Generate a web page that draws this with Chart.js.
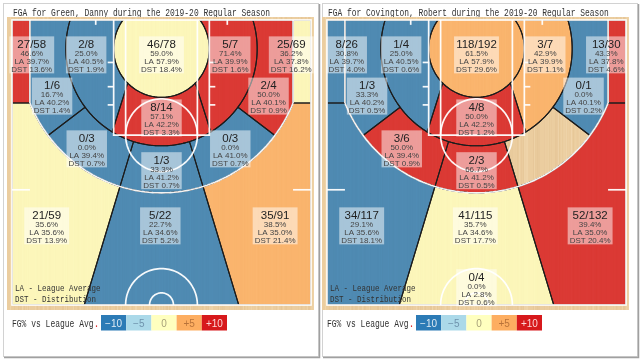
<!DOCTYPE html>
<html><head><meta charset="utf-8">
<script src="https://cdn.jsdelivr.net/npm/chart.js@4.4.1/dist/chart.umd.min.js"></script>
<style>
html,body{margin:0;padding:0;background:#fff;width:640px;height:359px;overflow:hidden}
.wrap{position:absolute;top:0;width:325px;height:359px}
</style></head><body>
<div class="wrap" style="left:0"><canvas id="c1" width="325" height="359"></canvas></div>
<div class="wrap" style="left:315px"><canvas id="c2" width="325" height="359"></canvas></div>
<script>
// ---------------- DATA ----------------
const zoneNames = ['Corner 3 L','Mid 8-16 L','Under 8 ft','Mid 8-16 R','Corner 3 R','Mid 16-24 L','Mid 8-16 C','Mid 16-24 R','Mid 16-24 LC','Mid 16-24 RC','Mid 16-24 C','Above Break 3 L','Above Break 3 C','Above Break 3 R','Backcourt'];
const greenTitle = 'FGA for Green, Danny during the 2019-20 Regular Season';
const greenMade = [27,2,46,5,25,1,8,2,0,0,1,21,5,35,0];
const greenAtt  = [58,8,78,7,69,6,14,4,3,3,3,59,22,91,0];
const greenLA   = [39.7,40.5,57.9,39.9,37.8,40.2,42.2,40.1,39.4,41.0,41.2,35.6,34.6,35.0,2.8];
const greenDST  = [13.6,1.9,18.4,1.6,16.2,1.4,3.3,0.9,0.7,0.7,0.7,13.9,5.2,21.4,0.0];
const covTitle = 'FGA for Covington, Robert during the 2019-20 Regular Season';
const covMade = [8,1,118,3,13,1,4,0,3,0,2,34,41,52,0];
const covAtt  = [26,4,192,7,30,3,8,1,6,0,3,117,115,132,4];
const covLA   = [39.7,40.5,57.9,39.9,37.8,40.2,42.2,40.1,39.4,41.0,41.2,35.6,34.6,35.0,2.8];
const covDST  = [4.0,0.6,29.6,1.1,4.6,0.5,1.2,0.2,0.9,0.0,0.5,18.1,17.7,20.4,0.6];
const legendTicks = ['-10','-5','0','+5','+10'];
const legendTitle = 'FG% vs League Avg';
const noteLines = ['LA - League Average','DST - Distribution'];

// ---------------- STYLE / GEOMETRY (court units, 0.1 ft, basket at 0,0) ----------------
const PAL = ['#2c7bb6','#abd9e9','#ffffbf','#fdae61','#d7191c'];
const LEG_TXT = ['rgba(255,255,255,0.85)','#6f93ad','#a8a27a','#b9733a','rgba(255,225,225,0.95)'];
const BL=-47.5, HC=422.5, SW=250, CXL=220, R8=80, R16=160, R3=237.5;
const A_CORNER = Math.asin(CXL/R3)*180/Math.PI, Y_CORNER = Math.sqrt(R3*R3-CXL*CXL);
const A_B8 = Math.acos(BL/R8)*180/Math.PI, A_B16 = Math.acos(BL/R16)*180/Math.PI;
const A_IN=45, A_OUT=31, A_MID=53, A_CEN=17;
const anchors = [[-217,10],[-126,10],[0,10],[115,10],[217,10],[-183,78],[0,114],[179,78],[-125,165],[115,165],[0,201],[-192,292],[-2,292],[190,292],[0,394]];

const D = Math.PI/180;
const P = (r,a)=>[r*Math.sin(a*D), r*Math.cos(a*D)];
function arc(r,a0,a1,n=48){const p=[];for(let i=0;i<=n;i++)p.push(P(r,a0+(a1-a0)*i/n));return p;}
const mir = pts=>pts.map(([x,y])=>[-x,y]);
const tanC = Math.tan(A_CEN*D);
const Z = {};
Z.c3l = [[-SW,BL],[-CXL,BL],[-CXL,Y_CORNER],[-SW,Y_CORNER]];
Z.m816l = [...arc(R8,-A_IN,-A_B8), ...arc(R16,-A_B16,-A_OUT)];
Z.u8 = arc(R8,0,360,90);
Z.m816c = [...arc(R8,-A_IN,A_IN), ...arc(R16,A_OUT,-A_OUT)];
Z.m1624l = [...arc(R3,-A_MID,-A_CORNER), [-CXL,BL], ...arc(R16,-A_B16,-A_MID)];
Z.m1624lc = [...arc(R16,-A_CEN,-A_MID), ...arc(R3,-A_MID,-A_CEN)];
Z.m1624c = [...arc(R16,-A_CEN,A_CEN), ...arc(R3,A_CEN,-A_CEN)];
Z.abl = [[-SW,Y_CORNER],[-CXL,Y_CORNER], ...arc(R3,-A_CORNER,-A_CEN), [-HC*tanC,HC],[-SW,HC]];
Z.abc = [...arc(R3,-A_CEN,A_CEN), [HC*tanC,HC],[-HC*tanC,HC]];
const zoneGeom = [Z.c3l, Z.m816l, Z.u8, mir(Z.m816l), mir(Z.c3l), Z.m1624l, Z.m816c, mir(Z.m1624l), Z.m1624lc, mir(Z.m1624lc), Z.m1624c, Z.abl, Z.abc, mir(Z.abl), null];

function colorClass(pct, la){const r=pct/la; if(r<0.9)return 0; if(r<0.95)return 1; if(r<=1.05)return 2; if(r<=1.1)return 3; return 4;}
function hash(i){const s=Math.sin(i*12.9898+78.233)*43758.5453;return s-Math.floor(s);}

function drawWood(ctx,x0,y0,x1,y1){
  ctx.fillStyle='#ebcd9f'; ctx.fillRect(x0,y0,x1-x0,y1-y0);
  for(let x=Math.floor(x0);x<x1;x++){
    const h=hash(x);
    if(h>0.6){ctx.fillStyle=`rgba(190,140,85,${((h-0.6)*0.22).toFixed(3)})`;ctx.fillRect(x,y0,1,y1-y0);}
    else if(h<0.3){ctx.fillStyle=`rgba(255,240,210,${((0.3-h)*0.8).toFixed(3)})`;ctx.fillRect(x,y0,1,y1-y0);}
  }
}

const courtPlugin = {
  id:'court',
  beforeDraw(chart, args, o){
    const ctx=chart.ctx, ca=chart.chartArea, xs=chart.scales.x, ys=chart.scales.y;
    const X=v=>xs.getPixelForValue(v), Y=v=>ys.getPixelForValue(v);
    const path=pts=>{ctx.beginPath();pts.forEach(([x,y],i)=>i?ctx.lineTo(X(x),Y(y)):ctx.moveTo(X(x),Y(y)));ctx.closePath();};
    const line=pts=>{ctx.beginPath();pts.forEach(([x,y],i)=>i?ctx.lineTo(X(x),Y(y)):ctx.moveTo(X(x),Y(y)));ctx.stroke();};
    ctx.save();
    ctx.fillStyle='#fff'; ctx.fillRect(o.bx,3,315,353);
    ctx.strokeStyle='#d2d2d2'; ctx.lineWidth=1; ctx.strokeRect(o.bx+0.5,3.5,315,353);
    ctx.strokeStyle='#a0a0a0'; ctx.lineWidth=1.5;
    ctx.beginPath(); ctx.moveTo(o.bx+316.5,4); ctx.lineTo(o.bx+316.5,357.5); ctx.lineTo(o.bx+1,357.5); ctx.stroke();
    ctx.fillStyle='#333'; ctx.font='10px "Liberation Mono"'; ctx.textBaseline='alphabetic';
    ctx.fillText(o.title, 13, 15.5, o.title.length*4.76);
    drawWood(ctx, 7, 17, 314, 310);
    ctx.save(); ctx.beginPath(); ctx.rect(ca.left,ca.top,ca.right-ca.left,ca.bottom-ca.top); ctx.clip();
    const m=o.made, a=o.att, la=o.la;
    zoneGeom.forEach((g,i)=>{ if(!g||!a[i])return; path(g); ctx.globalAlpha=0.82; ctx.fillStyle=PAL[colorClass(100*m[i]/a[i],la[i])]; ctx.fill(); });
    ctx.globalAlpha=1; ctx.strokeStyle='#1c1c1c'; ctx.lineWidth=1.1;
    zoneGeom.forEach(g=>{ if(!g)return; path(g); ctx.stroke(); });
    ctx.strokeStyle='rgba(255,255,255,0.95)'; ctx.lineWidth=1.7;
    line([[-80,BL],[-80,142.5],[80,142.5],[80,BL]]);
    line([[-60,BL],[-60,142.5]]); line([[60,BL],[60,142.5]]);
    ctx.beginPath(); for(let i=0;i<=90;i++){const t=i/90*2*Math.PI;const px=X(60*Math.cos(t)),py=Y(142.5+60*Math.sin(t)); i?ctx.lineTo(px,py):ctx.moveTo(px,py);} ctx.stroke();
    line([[-CXL,BL],[-CXL,Y_CORNER]]); line([[CXL,BL],[CXL,Y_CORNER]]);
    line(arc(R3,-A_CORNER,A_CORNER,80));
    [60,20].forEach(r=>{ctx.beginPath();for(let i=0;i<=60;i++){const t=Math.PI+i/60*Math.PI;const px=X(r*Math.cos(t)),py=Y(HC+r*Math.sin(t));i?ctx.lineTo(px,py):ctx.moveTo(px,py);}ctx.stroke();});
    [22.5,62.5,92.5].forEach(yy=>{line([[-80,yy],[-90,yy]]);line([[80,yy],[90,yy]]);});
    line([[-110,BL],[-110,BL+8]]); line([[110,BL],[110,BL+8]]);
    line([[-SW,232.5],[-SW+30,232.5]]); line([[SW,232.5],[SW-30,232.5]]);
    ctx.restore();
    ctx.strokeStyle='rgba(255,255,255,0.95)'; ctx.lineWidth=1.7;
    ctx.strokeRect(X(-SW),Y(BL),X(SW)-X(-SW),Y(HC)-Y(BL));
    ctx.restore();
  },
  afterDatasetsDraw(chart, args, o){
    const ctx=chart.ctx, meta=chart.getDatasetMeta(0);
    const m=o.made,a=o.att,la=o.la,dst=o.dst;
    ctx.save();
    meta.data.forEach((pt,i)=>{
      if(!a[i])return;
      const t=[`${m[i]}/${a[i]}`,(100*m[i]/a[i]).toFixed(1)+'%',`LA ${la[i].toFixed(1)}%`,`DST ${dst[i].toFixed(1)}%`];
      ctx.font='11.5px "Liberation Sans"'; let w=ctx.measureText(t[0]).width;
      ctx.font='8px "Liberation Sans"'; for(let k=1;k<4;k++)w=Math.max(w,ctx.measureText(t[k]).width);
      w+=4; const h=37, left=pt.x-w/2, top=pt.y-h/2;
      ctx.fillStyle='rgba(255,255,255,0.5)'; ctx.fillRect(left,top,w,h);
      ctx.textAlign='center'; ctx.textBaseline='alphabetic';
      ctx.fillStyle='#222'; ctx.font='11.5px "Liberation Sans"'; ctx.fillText(t[0],pt.x,top+11.5);
      ctx.fillStyle='#444'; ctx.font='8px "Liberation Sans"';
      ctx.fillText(t[1],pt.x,top+19.5); ctx.fillText(t[2],pt.x,top+27.5); ctx.fillText(t[3],pt.x,top+35.5);
    });
    ctx.textAlign='left'; ctx.fillStyle='#333'; ctx.font='9.5px "Liberation Mono"';
    ctx.fillText(noteLines[0],15,291,noteLines[0].length*4.5);
    ctx.fillText(noteLines[1],15,301.5,noteLines[1].length*4.5);
    ctx.font='10px "Liberation Mono"'; ctx.fillStyle='#333';
    ctx.fillText(legendTitle,12,326.5,legendTitle.length*4.8);
    ctx.fillStyle='#e03030'; ctx.fillText('.',12+legendTitle.length*4.8,326.5);
    legendTicks.forEach((s,i)=>{
      const x0=101+i*25.2; ctx.fillStyle=PAL[i]; ctx.fillRect(x0,315,25.2,15.5);
      ctx.fillStyle=LEG_TXT[i]; ctx.font='10px "Liberation Sans"'; ctx.textAlign='center';
      ctx.fillText(s.replace('-','\u2212'),x0+12.6,326.5); ctx.textAlign='left';
    });
    ctx.restore();
  }
};

function makeChart(id, title, made, att, la, dst, bx){
  new Chart(document.getElementById(id).getContext('2d'),{
    type:'scatter',
    data:{datasets:[{label:title,data:anchors.map(([x,y],i)=>({x,y,zone:zoneNames[i]})),pointRadius:0,pointHoverRadius:0}]},
    options:{
      responsive:false, animation:false, events:[],
      layout:{padding:{left:12,right:325-311,top:20,bottom:359-305}},
      scales:{x:{type:'linear',min:-SW,max:SW,display:false},y:{type:'linear',min:BL,max:HC,reverse:true,display:false}},
      plugins:{legend:{display:false},tooltip:{enabled:false},court:{title,made,att,la,dst,bx}}
    },
    plugins:[courtPlugin]
  });
}
makeChart('c1', greenTitle, greenMade, greenAtt, greenLA, greenDST, 3);
makeChart('c2', covTitle, covMade, covAtt, covLA, covDST, 7);
</script></body></html>
